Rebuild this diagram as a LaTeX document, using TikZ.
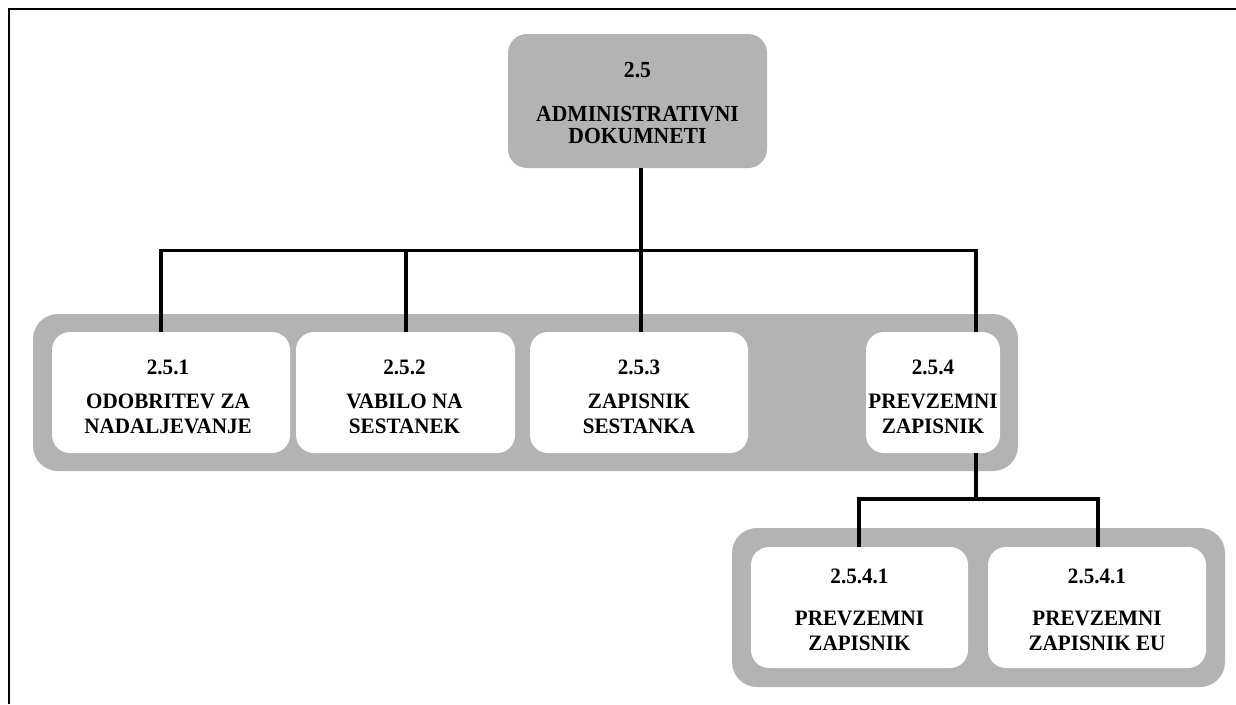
\documentclass[tikz,border=0pt]{standalone}
\usepackage{fontspec}
\setmainfont{Liberation Serif}
\definecolor{bandgray}{RGB}{179,179,179}
% slightly condensed bold caption text
\newcommand\capt[1]{\scalebox{0.96}[1]{#1}}
\newcommand\captroot[1]{\scalebox{0.94}[1]{#1}}
\begin{document}
\begin{tikzpicture}[x=1pt,y=-1pt,
  band/.style={rectangle, fill=bandgray, draw=none, rounded corners=25pt, inner sep=0pt},
  topbox/.style={rectangle, fill=bandgray, draw=none, rounded corners=19pt, inner sep=0pt},
  wbox/.style={rectangle, fill=white, draw=none, rounded corners=18pt, inner sep=0pt, minimum height=121pt},
  lbl/.style={anchor=base, inner sep=0pt, font=\fontsize{22}{25}\selectfont\bfseries},
  toplbl/.style={anchor=base, inner sep=0pt, font=\fontsize{23}{25}\selectfont\bfseries},
  conn/.style={draw=black, line width=3.2pt},
  frame/.style={draw=black, line width=2.5pt}]
\useasboundingbox (0,0) rectangle (1236,704);

% page frame (top and left edges)
\draw[frame] (9,704) -- (9,9) -- (1236,9);

% root
\node[topbox, minimum width=259pt, minimum height=134pt] (root) at (637.5,101) {};
\node[toplbl] (rootnum) at (637.5,77) {\captroot{2.5}};
\node[toplbl] (rootl1) at (637.5,121) {\captroot{ADMINISTRATIVNI}};
\node[toplbl] (rootl2) at (637.5,143) {\captroot{DOKUMNETI}};

% first level
\node[band, minimum width=985pt, minimum height=157pt] (row1) at (525.5,392.5) {};
\node[wbox, minimum width=238pt] (b1) at (171,392.5) {};
\node[wbox, minimum width=219pt] (b2) at (405.5,392.5) {};
\node[wbox, minimum width=218pt] (b3) at (639,392.5) {};
\node[wbox, minimum width=134pt] (b4) at (933,392.5) {};

\node[lbl] (b1num) at (168,374) {\capt{2.5.1}};
\node[lbl] (b1l1) at (168,408) {\capt{ODOBRITEV ZA}};
\node[lbl] (b1l2) at (168,433) {\capt{NADALJEVANJE}};

\node[lbl] (b2num) at (404.5,374) {\capt{2.5.2}};
\node[lbl] (b2l1) at (404.5,408) {\capt{VABILO NA}};
\node[lbl] (b2l2) at (404.5,433) {\capt{SESTANEK}};

\node[lbl] (b3num) at (639,374) {\capt{2.5.3}};
\node[lbl] (b3l1) at (639,408) {\capt{ZAPISNIK}};
\node[lbl] (b3l2) at (639,433) {\capt{SESTANKA}};

\node[lbl] (b4num) at (933,374) {\capt{2.5.4}};
\node[lbl] (b4l1) at (933,408) {\capt{PREVZEMNI}};
\node[lbl] (b4l2) at (933,433) {\capt{ZAPISNIK}};

% second level
\node[band, minimum width=493pt, minimum height=159pt] (row2) at (978.5,607.5) {};
\node[wbox, minimum width=217pt] (ba) at (859.5,607.5) {};
\node[wbox, minimum width=218pt] (bb) at (1097,607.5) {};

\node[lbl] (banum) at (859.5,583) {\capt{2.5.4.1}};
\node[lbl] (bal1) at (859.5,625) {\capt{PREVZEMNI}};
\node[lbl] (bal2) at (859.5,650) {\capt{ZAPISNIK}};

\node[lbl] (bbnum) at (1097,583) {\capt{2.5.4.1}};
\node[lbl] (bbl1) at (1097,625) {\capt{PREVZEMNI}};
\node[lbl] (bbl2) at (1097,650) {\capt{ZAPISNIK EU}};

% connector end points on the boxes
\coordinate (r1) at (641,168);
\coordinate (bus) at (641,250.5);
\coordinate (t1) at (161,332);
\coordinate (t2) at (406,332);
\coordinate (t3) at (641,332);
\coordinate (t4) at (976,332);
\coordinate (s4) at (976,453);
\coordinate (j4) at (976,499);
\coordinate (ta) at (859,547);
\coordinate (tb) at (1098,547);

% connectors
\draw[conn] (r1) -- (t3);
\draw[conn] (t1) |- (bus);
\draw[conn] (t2) |- (bus);
\draw[conn] (t4) |- (bus);
\draw[conn] (s4) -- (j4);
\draw[conn] (ta) |- (j4);
\draw[conn] (tb) |- (j4);
\end{tikzpicture}
\end{document}
